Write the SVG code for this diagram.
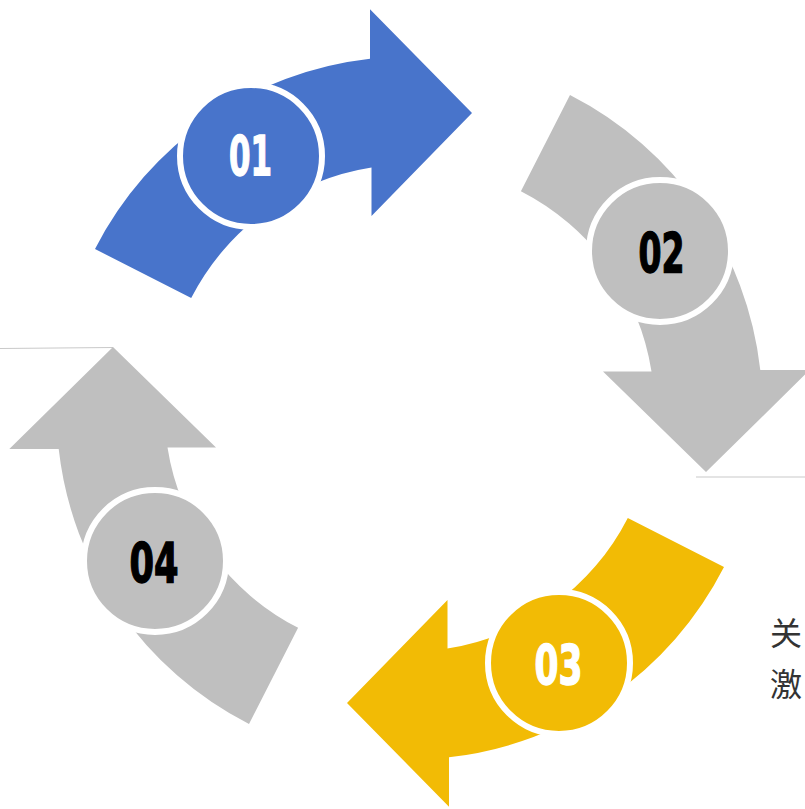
<svg xmlns="http://www.w3.org/2000/svg" xmlns:xlink="http://www.w3.org/1999/xlink" width="805" height="809" viewBox="0 0 805 809">
<style>
.ring{stroke:#FFFFFF;stroke-width:6}
.num{font-family:"Liberation Sans Narrow","DejaVu Sans Condensed","Liberation Sans",sans-serif;font-weight:bold;font-size:56px;text-anchor:middle;stroke-width:1.4}
.cjk{font-family:"Noto Sans CJK SC","Noto Sans",sans-serif;font-size:32px;fill:#333333}
.thin{stroke:#C9C9C9;stroke-width:1.2;fill:none}
</style>
<defs>
<path id="arr" d="M95,249 A353,353 0 0 1 370,58.7 L370,9.3 L472,113 L371.5,216 L371.5,167.5 A245,245 0 0 0 191.2,298.1 Z"/>
</defs>
<rect width="805" height="809" fill="#FFFFFF"/>
<g id="connectors">
<line class="thin" x1="0" y1="348.5" x2="113" y2="347.5"/>
<line class="thin" x1="696" y1="477" x2="805" y2="477"/>
</g>
<g id="node-01">
<use xlink:href="#arr" href="#arr" fill="#4874CB"/>
<circle class="ring" cx="251" cy="156" r="71" fill="#4874CB"/>
<text class="num" x="250.5" y="175" fill="#FFFFFF" stroke="#FFFFFF" textLength="43" lengthAdjust="spacingAndGlyphs">01</text>
</g>
<g id="node-02">
<use xlink:href="#arr" href="#arr" fill="#BFBFBF" transform="rotate(90 409.5 409.5)"/>
<circle class="ring" cx="660" cy="251" r="71" fill="#BFBFBF"/>
<text class="num" x="661.5" y="271.5" fill="#000000" stroke="#000000" textLength="46" lengthAdjust="spacingAndGlyphs">02</text>
</g>
<g id="node-03">
<use xlink:href="#arr" href="#arr" fill="#F2BB05" transform="translate(0,-3) rotate(180 409.5 409.5)"/>
<circle class="ring" cx="559" cy="663" r="71" fill="#F2BB05"/>
<text class="num" x="558.5" y="684" fill="#FFFFFF" stroke="#FFFFFF" textLength="48" lengthAdjust="spacingAndGlyphs">03</text>
</g>
<g id="node-04">
<use xlink:href="#arr" href="#arr" fill="#BFBFBF" transform="rotate(270 409.5 409.5)"/>
<circle class="ring" cx="155" cy="561" r="71" fill="#BFBFBF"/>
<text class="num" x="154" y="581.5" fill="#000000" stroke="#000000" textLength="49" lengthAdjust="spacingAndGlyphs">04</text>
</g>
<g id="side-text">
<text class="cjk" x="770" y="644.5">关</text>
<text class="cjk" x="770" y="696">激</text>
</g>
</svg>
